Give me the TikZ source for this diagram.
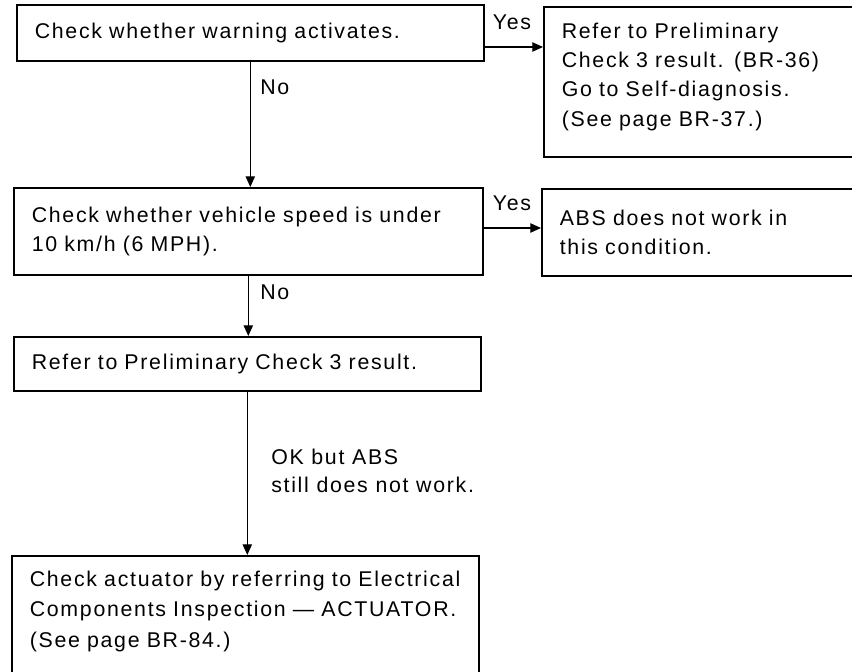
\documentclass[tikz,border=0pt]{standalone}
\usepackage{fontspec}
\setmainfont{Liberation Sans}[LetterSpace=8.0]
\usetikzlibrary{arrows.meta}

\begin{document}
\begin{tikzpicture}[
  x=0.75pt,y=-0.75pt,
  box/.style={draw, line width=1.2pt, align=left, anchor=north west, inner xsep=13.5pt, font=\fontsize{16}{22}\selectfont},
  tag/.style={font=\fontsize{16}{20}\selectfont, inner sep=0pt},
  arrow/.style={-{Triangle[length=8pt,width=7pt]}, line width=0.9pt}
]
\useasboundingbox (0,0) rectangle (852,671);

\node[box, text width=323.25pt, minimum height=42pt] (warn) at (16,4) {Check whether warning activates.};
\node[box, text width=218.25pt, minimum height=112.5pt, text depth=77pt] (prelim36) at (543,6) {Refer to Preliminary\\Check 3 result. (BR-36)\\Go to Self-diagnosis.\\(See page BR-37.)};
\node[box, text width=324.75pt, minimum height=65.25pt] (speed) at (13,187) {Check whether vehicle speed is under\\10 km/h (6 MPH).};
\node[box, text width=219.75pt, minimum height=65.25pt] (cond) at (541,188) {ABS does not work in\\this condition.};
\node[box, text width=323.25pt, minimum height=40.5pt] (prelim) at (13,336) {Refer to Preliminary Check 3 result.};
\node[box, text width=323.25pt, minimum height=101.25pt, text depth=67.4pt, font=\fontsize{16}{23}\selectfont] (actuator) at (11,555) {Check actuator by referring to Electrical\\Components Inspection --- ACTUATOR.\\(See page BR-84.)};

\draw[arrow] (warn.east |- 0,47) -- (prelim36.west |- 0,47);
\draw[arrow] (speed.east |- 0,228) -- (cond.west |- 0,228);
\draw[arrow] (warn.south) -- (warn.south |- speed.north);
\draw[arrow] (speed.south) -- (speed.south |- prelim.north);
\draw[arrow] (prelim.south) -- (prelim.south |- actuator.north);

\node[tag] (yes1) at (512,22) {Yes};
\node[tag] (yes2) at (512,203) {Yes};
\node[tag, anchor=west] (no1) at (260,87) {No};
\node[tag, anchor=west] (no2) at (260,292) {No};
\node[tag, anchor=west, align=left, font=\fontsize{16}{20.5}\selectfont] (okabs) at (271,471) {OK but ABS\\still does not work.};
\end{tikzpicture}
\end{document}
